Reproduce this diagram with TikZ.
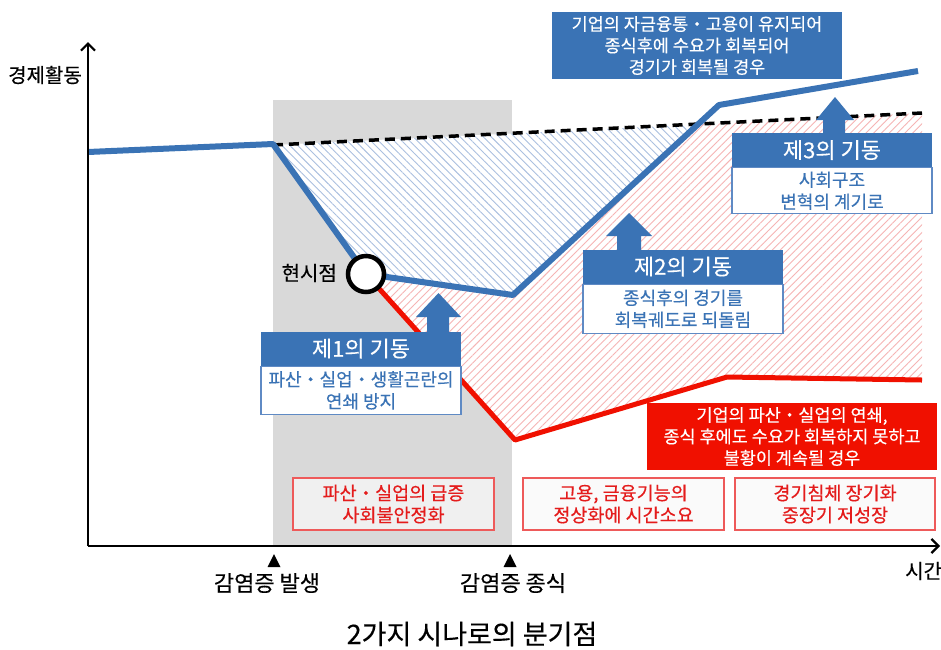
\documentclass[tikz,border=0pt]{standalone}
\usepackage{fontspec}
\setmainfont[FakeBold=0.35]{Noto Sans CJK KR}
\usetikzlibrary{arrows.meta,patterns.meta}
\definecolor{cblue}{RGB}{58,115,181}
\definecolor{cred}{RGB}{240,16,0}
\definecolor{cgray}{RGB}{217,217,217}
\definecolor{hblue}{RGB}{170,192,224}
\definecolor{hred}{RGB}{246,180,180}
\definecolor{tred}{RGB}{228,28,28}
\definecolor{bred}{RGB}{238,90,90}
\definecolor{bblue}{RGB}{95,138,196}
\newcommand\md{・}
\begin{document}
\begin{tikzpicture}[x=1pt,y=-1pt,
  hdr/.style={fill=cblue, text=white, minimum width=200pt, minimum height=34pt, inner sep=0pt, font=\fontsize{22}{24}\selectfont},
  bodybox/.style={fill=white, draw=bblue, line width=1.2pt, text=cblue, minimum width=200pt, inner sep=0pt, align=center, font=\fontsize{18}{22}\selectfont, anchor=north},
  bigbox/.style={text=white, minimum width=290pt, minimum height=67pt, inner sep=0pt, align=center, font=\fontsize{17.5}{21.5}\selectfont},
  redbox/.style={draw=bred, line width=1.3pt, text=tred, minimum width=201pt, minimum height=52pt, inner sep=0pt, align=center, font=\fontsize{18.5}{22}\selectfont},
  blockarrow/.style={fill=cblue},
  lbl/.style={font=\fontsize{20}{22}\selectfont, inner sep=0pt},
  evlbl/.style={font=\fontsize{22}{24}\selectfont, inner sep=0pt},
  axisline/.style={line width=2.4pt, -{Straight Barb[length=7pt,width=14pt,line width=2.2pt]}}
]
\useasboundingbox (0,0) rectangle (941,649);
% shaded period
\fill[cgray] (273,100) rectangle (512,546);
% coordinates
\coordinate (B0) at (88,152);
\coordinate (B1) at (273,144);
\coordinate (C) at (366,274);
\coordinate (B2) at (513,295);
\coordinate (BX) at (695.8,124.6);
\coordinate (B3) at (719,105);
\coordinate (B4) at (918,71);
\coordinate (D0) at (273,145);
\coordinate (D1) at (922,113);
\coordinate (R1) at (515,440);
\coordinate (R2) at (727,377);
\coordinate (R3) at (922,380);
% hatched regions
\fill[white] (D0) -- (C) -- (B2) -- (BX) -- cycle;
\fill[pattern={Lines[angle=-45,distance=5.5pt,line width=0.9pt]}, pattern color=hblue] (D0) -- (C) -- (B2) -- (BX) -- cycle;
\fill[white] (C) -- (B2) -- (BX) -- (D1) -- (R3) -- (R2) -- (R1) -- cycle;
\fill[pattern={Lines[angle=45,distance=5.5pt,line width=0.9pt]}, pattern color=hred] (C) -- (B2) -- (BX) -- (D1) -- (R3) -- (R2) -- (R1) -- cycle;
% dashed trend
\draw[line width=3.5pt, dash pattern=on 10pt off 6pt] (D0) -- (D1);
% scenario lines
\draw[cred, line width=5pt, line join=round] (C) -- (R1) -- (R2) -- (R3);
\draw[cblue, line width=6pt, line join=round] (B0) -- (B1) -- (C) -- (B2) -- (B3) -- (B4);
% current point
\node[circle, draw=black, line width=4.5pt, fill=white, minimum size=36pt, inner sep=0pt] (now) at (C) {};
\node[lbl, anchor=east] (nowlbl) at (337,273) {현시점};
% axes
\coordinate (O) at (88,546);
\coordinate (Ytop) at (88,42);
\coordinate (Xend) at (940,546);
\draw[axisline] (O) -- (Ytop);
\draw[axisline] (O) -- (Xend);
\node[lbl, anchor=center] (ylbl) at (45,75) {경제활동};
\node[lbl, anchor=west] (xlbl) at (905,571) {시간};
% event markers
\fill (267.5,567) -- (274,554) -- (280.5,567) -- cycle;
\fill (503.5,567) -- (510,554) -- (516.5,567) -- cycle;
\node[evlbl] (ev1) at (267,583) {감염증 발생};
\node[evlbl] (ev2) at (513,583) {감염증 종식};
% title
\node[font=\fontsize{27}{30}\selectfont, inner sep=0pt] (title) at (472,634) {2가지 시나로의 분기점};
% pillar 1
\fill[blockarrow] (427,333) -- (427,317) -- (416,317) -- (438.5,293) -- (461,317) -- (449,317) -- (449,333) -- cycle;
\node[hdr] (h1) at (361,348.5) {제1의 기동};
\node[bodybox, minimum height=48pt] (b1) at (h1.south) {파산\md 실업\md 생활곤란의\\연쇄 방지};
% pillar 2
\fill[blockarrow] (617,251) -- (617,236) -- (606,236) -- (629,213) -- (652,236) -- (641,236) -- (641,251) -- cycle;
\node[hdr] (h2) at (683,266.5) {제2의 기동};
\node[bodybox, minimum height=49pt] (b2) at (h2.south) {종식후의 경기를\\회복궤도로 되돌림};
% pillar 3
\fill[blockarrow] (823,134) -- (823,120) -- (816,120) -- (835,97) -- (854,120) -- (845,120) -- (845,134) -- cycle;
\node[hdr] (h3) at (832,150) {제3의 기동};
\node[bodybox, minimum height=46pt] (b3) at (h3.south) {사회구조\\변혁의 계기로};
% scenario boxes
\node[bigbox, fill=cblue] (good) at (697,45.5) {기업의 자금융통\md 고용이 유지되어\\종식후에 수요가 회복되어\\경기가 회복될 경우};
\node[bigbox, fill=cred] (bad) at (792,436.5) {기업의 파산\md 실업의 연쇄,\\종식 후에도 수요가 회복하지 못하고\\불황이 계속될 경우};
% bottom boxes
\node[redbox, fill=black!6] (r1) at (393.5,504) {파산\md 실업의 급증\\사회불안정화};
\node[redbox, fill=black!2] (r2) at (623.5,504) {고용, 금융기능의\\정상화에 시간소요};
\node[redbox, fill=black!2, minimum width=200pt] (r3) at (835,504) {경기침체 장기화\\중장기 저성장};
\end{tikzpicture}
\end{document}
